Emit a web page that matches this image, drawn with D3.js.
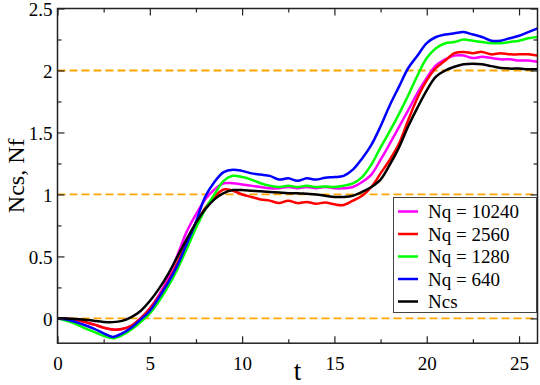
<!DOCTYPE html>
<html><head><meta charset="utf-8">
<script src="https://cdn.jsdelivr.net/npm/d3@7"></script>
<style>body{margin:0;background:#fff}svg{display:block}
text{font-family:"Liberation Serif","Times New Roman",Times,"DejaVu Serif",serif;}</style>
</head><body>
<svg id="c" width="540" height="385"></svg>
<script>
const tValues = d3.range(0, 26.01, 0.5);
const nq10240 = [0,-0.003,-0.01,-0.03,-0.05,-0.075,-0.09,-0.085,-0.06,0.0,0.08,0.19,0.33,0.51,0.7,0.84,0.96,1.04,1.09,1.09,1.08,1.07,1.06,1.05,1.05,1.06,1.05,1.06,1.05,1.06,1.05,1.05,1.06,1.1,1.16,1.28,1.41,1.545,1.68,1.82,1.94,2.04,2.09,2.12,2.12,2.1,2.11,2.1,2.09,2.09,2.08,2.08,2.07];
const nq2560 = [0,-0.003,-0.01,-0.03,-0.05,-0.075,-0.09,-0.085,-0.06,0.0,0.08,0.18,0.3,0.45,0.61,0.76,0.89,0.98,1.04,1.03,1.0,0.98,0.96,0.95,0.93,0.95,0.93,0.94,0.925,0.935,0.92,0.915,0.95,0.99,1.06,1.17,1.28,1.41,1.6,1.78,1.92,2.02,2.08,2.14,2.15,2.14,2.15,2.13,2.14,2.13,2.13,2.13,2.12];
const nq1280 = [0,-0.02,-0.045,-0.08,-0.11,-0.14,-0.16,-0.135,-0.09,-0.03,0.04,0.14,0.26,0.4,0.56,0.73,0.88,1.0,1.11,1.15,1.14,1.12,1.09,1.07,1.06,1.07,1.06,1.07,1.06,1.065,1.06,1.07,1.09,1.14,1.24,1.38,1.51,1.65,1.8,1.96,2.1,2.18,2.22,2.23,2.25,2.24,2.23,2.22,2.22,2.23,2.24,2.26,2.27];
const nq640 = [0,-0.01,-0.03,-0.055,-0.085,-0.12,-0.15,-0.12,-0.075,-0.01,0.06,0.17,0.29,0.43,0.6,0.78,0.98,1.1,1.18,1.2,1.19,1.17,1.16,1.15,1.12,1.13,1.11,1.13,1.12,1.135,1.14,1.15,1.2,1.29,1.4,1.55,1.72,1.87,2.02,2.12,2.22,2.27,2.29,2.3,2.31,2.29,2.27,2.24,2.24,2.26,2.28,2.31,2.34];
const ncs = [0,0,-0.005,-0.01,-0.02,-0.028,-0.03,-0.02,0.01,0.06,0.14,0.24,0.36,0.5,0.64,0.77,0.88,0.96,1.01,1.035,1.035,1.03,1.025,1.02,1.015,1.01,1.01,1.005,1.0,0.99,0.98,0.98,0.99,1.02,1.06,1.12,1.24,1.38,1.55,1.7,1.84,1.95,2.0,2.03,2.05,2.055,2.05,2.035,2.02,2.015,2.015,2.01,2.01];
const seriesNames = ["Nq = 10240","Nq = 2560","Nq = 1280","Nq = 640","Ncs"];
const seriesColors = ["#ff00ff","#ff0000","#00ff00","#0000ff","#000000"];
const seriesValues = [nq10240, nq2560, nq1280, nq640, ncs];
const xTicks = [0,5,10,15,20,25];
const yTicks = [0,0.5,1,1.5,2,2.5];
const refLines = [0,1,2];

const svg = d3.select("#c");
const L = 57.5, R = 537.5, T = 8.5, B = 343.2;
const x = d3.scaleLinear().domain([0,26]).range([L,R]);
const y = d3.scaleLinear().domain([-0.2,2.5]).range([B,T]);
const font = '"Liberation Serif","Times New Roman",Times,"DejaVu Serif",serif';

svg.append("clipPath").attr("id","pc").append("rect")
  .attr("x",L).attr("y",T).attr("width",R-L).attr("height",B-T);
const plot = svg.append("g").attr("clip-path","url(#pc)");

plot.selectAll("line.ref").data(refLines).join("line")
  .attr("x1",L).attr("x2",R).attr("y1",d=>y(d)).attr("y2",d=>y(d))
  .attr("stroke","#ffa500").attr("stroke-width",1.8).attr("stroke-dasharray","8,4");

const line = d3.line().x((d,i)=>x(tValues[i])).y(d=>y(d)).curve(d3.curveCatmullRom.alpha(0.5));
seriesValues.forEach((vals,k)=>{
  plot.append("path").attr("d",line(vals)).attr("fill","none")
    .attr("stroke",seriesColors[k]).attr("stroke-width",2.5).attr("stroke-linejoin","round");
});

const axColor = "#222";
function styleAxis(g){ g.attr("font-family",null); g.select(".domain").remove(); g.selectAll("line").attr("stroke",axColor).attr("stroke-width",1.2); }
const xMinor = d3.range(0,26.01,2.5).filter(v=>v%5!==0);
const yMinor = d3.range(-0.25,2.51,0.25).map(v=>+v.toFixed(2)).filter(v=>v>-0.2 && Math.abs(v*2-Math.round(v*2))>1e-6);

const gxB = svg.append("g").attr("transform",`translate(0,${B})`)
  .call(d3.axisBottom(x).tickValues(xTicks).tickSizeInner(-7).tickSizeOuter(0).tickPadding(13).tickFormat(d3.format("d")));
gxB.call(styleAxis);
gxB.selectAll("text").style("font-family",font).attr("font-size",19).attr("fill","#000");
svg.append("g").attr("transform",`translate(0,${B})`)
  .call(d3.axisBottom(x).tickValues(xMinor).tickSizeInner(-4).tickSizeOuter(0).tickFormat("")).call(styleAxis);
svg.append("g").attr("transform",`translate(0,${T})`)
  .call(d3.axisTop(x).tickValues(xTicks).tickSizeInner(-7).tickSizeOuter(0).tickFormat("")).call(styleAxis);
svg.append("g").attr("transform",`translate(0,${T})`)
  .call(d3.axisTop(x).tickValues(xMinor).tickSizeInner(-4).tickSizeOuter(0).tickFormat("")).call(styleAxis);

const gyL = svg.append("g").attr("transform",`translate(${L},0)`)
  .call(d3.axisLeft(y).tickValues(yTicks).tickSizeInner(-7).tickSizeOuter(0).tickPadding(5).tickFormat(d=>String(d)));
gyL.call(styleAxis);
gyL.selectAll("text").style("font-family",font).attr("font-size",19).attr("fill","#000").attr("dy","0.36em");
svg.append("g").attr("transform",`translate(${L},0)`)
  .call(d3.axisLeft(y).tickValues(yMinor).tickSizeInner(-4).tickSizeOuter(0).tickFormat("")).call(styleAxis);
svg.append("g").attr("transform",`translate(${R},0)`)
  .call(d3.axisRight(y).tickValues(yTicks).tickSizeInner(-7).tickSizeOuter(0).tickFormat("")).call(styleAxis);
svg.append("g").attr("transform",`translate(${R},0)`)
  .call(d3.axisRight(y).tickValues(yMinor).tickSizeInner(-4).tickSizeOuter(0).tickFormat("")).call(styleAxis);

svg.append("rect").attr("x",L).attr("y",T).attr("width",R-L).attr("height",B-T)
  .attr("fill","none").attr("stroke",axColor).attr("stroke-width",1.5);

svg.append("text").attr("x",(L+R)/2).attr("y",380).attr("text-anchor","middle")
  .style("font-family",font).attr("font-size",27).text("t");
svg.append("text").attr("transform",`translate(24,${(T+B)/2}) rotate(-90)`).attr("text-anchor","middle")
  .style("font-family",font).attr("font-size",24).text("Ncs, Nf");

const lg = svg.append("g");
lg.append("rect").attr("x",393.5).attr("y",197.5).attr("width",143).attr("height",115)
  .attr("fill","#fff").attr("stroke","#444").attr("stroke-width",1);
seriesNames.forEach((n,i)=>{
  const yy = 211.5 + i*22.5;
  lg.append("line").attr("x1",398).attr("x2",418).attr("y1",yy).attr("y2",yy)
    .attr("stroke",seriesColors[i]).attr("stroke-width",2.5);
  lg.append("text").attr("x",428).attr("y",yy+6.5).style("font-family",font).attr("font-size",19).text(n);
});
</script>
</body></html>
